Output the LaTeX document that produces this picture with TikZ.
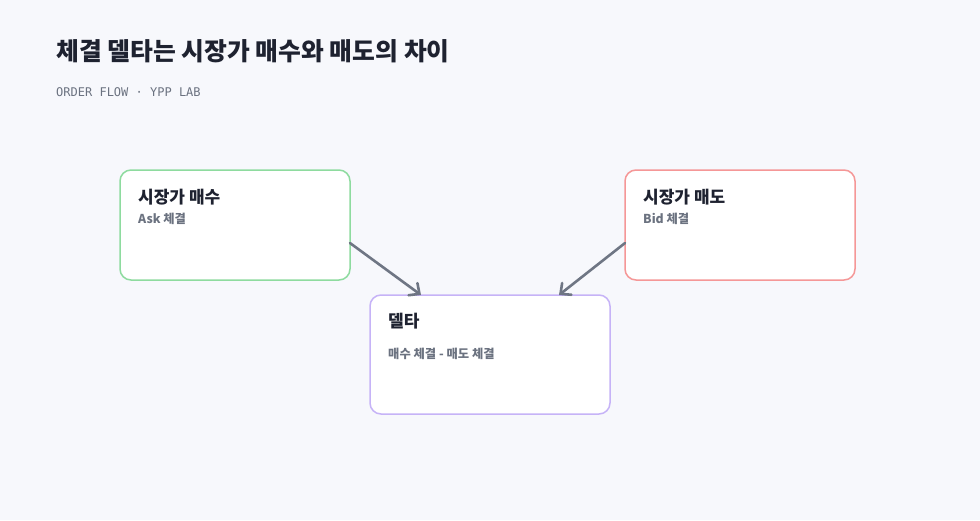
\documentclass[tikz,border=0pt]{standalone}
\usepackage{fontspec}
\setmainfont{Noto Sans CJK KR}
\newfontfamily\krfont{Noto Sans CJK KR}
\newfontfamily\monofont{DejaVu Sans Mono}
\usetikzlibrary{arrows.meta,calc}
\definecolor{bgcol}{HTML}{F7F8FC}
\definecolor{titlecol}{HTML}{1E2230}
\definecolor{subcol}{HTML}{6B7280}
\definecolor{arrowcol}{HTML}{6F7684}
\definecolor{greencol}{HTML}{8EDB9F}
\definecolor{redcol}{HTML}{F59797}
\definecolor{purplecol}{HTML}{C6B3F7}
\tikzset{
  card/.style={draw, fill=white, line width=1.5pt, rounded corners=11pt, anchor=north west, inner sep=0pt, outer sep=0pt},
  cardtitle/.style={anchor=west, inner sep=0pt, text=titlecol, font=\krfont\bfseries\fontsize{17}{19}\selectfont},
  cardsub/.style={anchor=west, inner sep=0pt, text=subcol, font=\krfont\bfseries\fontsize{12.3}{14}\selectfont},
  flow/.style={draw=arrowcol, line width=2.6pt, line cap=round, -{Straight Barb[length=8pt,width=15pt,line cap=round]}},
}
\begin{document}
\begin{tikzpicture}[x=1pt,y=-1pt]
\fill[bgcol] (0,0) rectangle (980,520);
\useasboundingbox (0,0) rectangle (980,520);

\node[anchor=west, inner sep=0pt, text=titlecol, font=\krfont\bfseries\fontsize{24.8}{27}\selectfont] (title) at (56,51.5) {체결 델타는 시장가 매수와 매도의 차이};
\node[anchor=west, inner sep=0pt, text=subcol, font=\monofont\fontsize{12}{14}\selectfont] (subtitle) at (56,92.5) {ORDER FLOW · YPP LAB};

\node[card, draw=greencol, minimum width=230pt, minimum height=110pt] (buy) at (120,170) {};
\node[card, draw=redcol, minimum width=230pt, minimum height=110pt] (sell) at (625,170) {};
\node[card, draw=purplecol, minimum width=240pt, minimum height=119pt] (delta) at (370,295) {};

\node[cardtitle] (buyt) at ($(buy.north west)+(18,27.5)$) {시장가 매수};
\node[cardsub] (buys) at ($(buy.north west)+(18,49)$) {Ask 체결};
\node[cardtitle] (sellt) at ($(sell.north west)+(18,27.5)$) {시장가 매도};
\node[cardsub] (sells) at ($(sell.north west)+(18,49)$) {Bid 체결};
\node[cardtitle] (deltat) at ($(delta.north west)+(18,26.5)$) {델타};
\node[cardsub] (deltas) at ($(delta.north west)+(18,59)$) {매수 체결 - 매도 체결};

\draw[flow] ($(buy.north east)!0.664!(buy.south east)$) -- ($(delta.north west)!0.2125!(delta.north east)$);
\draw[flow] ($(sell.north west)!0.664!(sell.south west)$) -- ($(delta.north west)!0.7875!(delta.north east)$);
\end{tikzpicture}
\end{document}
